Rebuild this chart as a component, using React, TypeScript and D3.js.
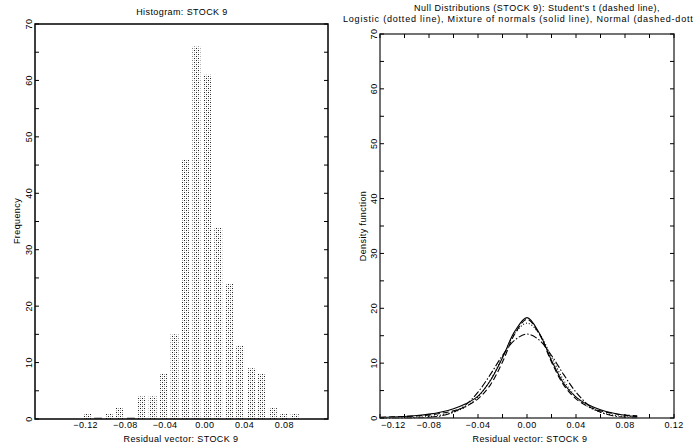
import React, { useEffect, useRef } from 'react'
import * as d3 from 'd3'

// histogram of residuals, STOCK 9
const binLefts = [-0.124, -0.113, -0.102, -0.091, -0.080, -0.069, -0.058, -0.047, -0.036, -0.025, -0.014, -0.003, 0.008, 0.019, 0.030, 0.041, 0.052, 0.063, 0.074, 0.085]
const binWidth = 0.011
const counts = [1, 0, 1, 2, 0, 4, 4, 8, 15, 46, 66, 61, 34, 24, 13, 9, 8, 2, 1, 1]
const histXTicks = [-0.12, -0.08, -0.04, 0, 0.04, 0.08]
const freqTicks = [0, 10, 20, 30, 40, 50, 60, 70]

// null distribution densities
const gridX = [-0.12, -0.11, -0.10, -0.09, -0.08, -0.07, -0.06, -0.05, -0.04, -0.03, -0.02, -0.01, 0, 0.01, 0.02, 0.03, 0.04, 0.05, 0.06, 0.07, 0.08, 0.09]
const studentT = [0.15, 0.2, 0.27, 0.38, 0.55, 0.85, 1.3, 2.1, 3.5, 6.0, 10.2, 15.3, 18.0, 15.3, 10.2, 6.0, 3.5, 2.1, 1.3, 0.85, 0.55, 0.38]
const logistic = [0.02, 0.03, 0.07, 0.14, 0.27, 0.53, 1.05, 2.04, 3.85, 6.85, 11.1, 15.4, 17.3, 15.4, 11.1, 6.85, 3.85, 2.04, 1.05, 0.53, 0.27, 0.14]
const mixture = [0.1, 0.17, 0.28, 0.45, 0.7, 1.1, 1.7, 2.6, 4.0, 6.8, 11.0, 15.8, 18.3, 15.5, 10.5, 6.3, 3.8, 2.4, 1.5, 0.9, 0.5, 0.25]
const normal = [0, 0, 0.01, 0.04, 0.13, 0.4, 1.07, 2.4, 4.7, 7.9, 11.4, 14.2, 15.3, 14.2, 11.4, 7.9, 4.7, 2.4, 1.07, 0.4, 0.13, 0.04]
const densXTicks = [-0.12, -0.08, -0.04, 0, 0.04, 0.08, 0.12]
const densYTicks = [0, 10, 20, 30, 40, 50, 60, 70]

const font = '"Liberation Sans", Arial, sans-serif'
const fmt = d3.format('.2f')

export default function App() {
  const ref = useRef<SVGSVGElement>(null)

  useEffect(() => {
    const svg = d3.select(ref.current)
    svg.selectAll('*').remove()
    svg.attr('font-family', font).attr('font-size', 9).attr('letter-spacing', 0.4)

    const defs = svg.append('defs')
    const pat = defs.append('pattern')
      .attr('id', 'stip')
      .attr('width', 4).attr('height', 4)
      .attr('patternUnits', 'userSpaceOnUse')
    pat.append('rect').attr('x', 0).attr('y', 0).attr('width', 1).attr('height', 1).attr('fill', '#222')
    pat.append('rect').attr('x', 2).attr('y', 2).attr('width', 1).attr('height', 1).attr('fill', '#222')
    pat.append('rect').attr('x', 2).attr('y', 0).attr('width', 1).attr('height', 1).attr('fill', '#aaa')
    pat.append('rect').attr('x', 0).attr('y', 2).attr('width', 1).attr('height', 1).attr('fill', '#aaa')

    // ---------- left panel: histogram ----------
    const xh = d3.scaleLinear().domain([-0.171, 0.124]).range([35, 328])
    const yh = d3.scaleLinear().domain([0, 70]).range([419, 24])
    const left = svg.append('g')

    left.selectAll('rect.bar')
      .data(binLefts.map((b, i) => ({ b, c: counts[i] })))
      .enter()
      .append('rect')
      .attr('class', 'bar')
      .attr('x', d => xh(d.b) + 1.5)
      .attr('width', d => xh(d.b + binWidth) - xh(d.b) - 3)
      .attr('y', d => d.c > 0 ? yh(d.c) : yh(0) - 1.5)
      .attr('height', d => d.c > 0 ? yh(0) - yh(d.c) : 1.5)
      .attr('fill', d => d.c > 0 ? 'url(#stip)' : '#888')

    left.append('rect')
      .attr('x', 35).attr('y', 24).attr('width', 328 - 35).attr('height', 419 - 24)
      .attr('fill', 'none').attr('stroke', '#000').attr('stroke-width', 1.5)

    d3.range(0, 71, 5).forEach(v => {
      left.append('line').attr('x1', 35).attr('x2', 39).attr('y1', yh(v)).attr('y2', yh(v)).attr('stroke', '#000')
      left.append('line').attr('x1', 324).attr('x2', 328).attr('y1', yh(v)).attr('y2', yh(v)).attr('stroke', '#000')
    })

    left.selectAll('text.yt')
      .data(freqTicks)
      .enter()
      .append('text')
      .attr('class', 'yt')
      .attr('transform', d => 'translate(32,' + yh(d) + ') rotate(-90)')
      .attr('text-anchor', 'middle')
      .text(d => d)

    left.selectAll('text.xt')
      .data(histXTicks)
      .enter()
      .append('text')
      .attr('class', 'xt')
      .attr('x', d => xh(d))
      .attr('y', 428)
      .attr('text-anchor', 'middle')
      .text(d => fmt(d).replace('-', '\u2212'))

    left.append('text')
      .attr('x', 182).attr('y', 15)
      .attr('text-anchor', 'middle')
      .text('Histogram: STOCK 9')

    left.append('text')
      .attr('x', 181).attr('y', 442)
      .attr('text-anchor', 'middle')
      .text('Residual vector: STOCK 9')

    left.append('text')
      .attr('transform', 'translate(20,221) rotate(-90)')
      .attr('text-anchor', 'middle')
      .text('Frequency')

    // ---------- right panel: densities ----------
    const xd = d3.scaleLinear().domain([-0.12, 0.12]).range([380, 674])
    const yd = d3.scaleLinear().domain([0, 70]).range([418, 34])
    const right = svg.append('g')

    const series = [
      { vals: studentT, dash: '6,3' },
      { vals: logistic, dash: '1,2' },
      { vals: mixture, dash: null },
      { vals: normal, dash: '7,2,1.5,2' },
    ]
    const line = d3.line<number>()
      .x((d, i) => xd(gridX[i]))
      .y(d => yd(d))
      .curve(d3.curveCatmullRom)

    right.selectAll('path.dens')
      .data(series)
      .enter()
      .append('path')
      .attr('class', 'dens')
      .attr('d', d => line(d.vals))
      .attr('fill', 'none')
      .attr('stroke', '#000')
      .attr('stroke-width', 1.1)
      .attr('stroke-dasharray', d => d.dash)

    right.append('rect')
      .attr('x', 380).attr('y', 34).attr('width', 674 - 380).attr('height', 418 - 34)
      .attr('fill', 'none').attr('stroke', '#444').attr('stroke-width', 1.5)

    d3.range(0, 71, 5).forEach(v => {
      right.append('line').attr('x1', 380).attr('x2', 384).attr('y1', yd(v)).attr('y2', yd(v)).attr('stroke', '#000')
      right.append('line').attr('x1', 670).attr('x2', 674).attr('y1', yd(v)).attr('y2', yd(v)).attr('stroke', '#000')
    })
    d3.range(-0.12, 0.1201, 0.02).forEach(v => {
      right.append('line').attr('x1', xd(v)).attr('x2', xd(v)).attr('y1', 34).attr('y2', 38).attr('stroke', '#000')
      right.append('line').attr('x1', xd(v)).attr('x2', xd(v)).attr('y1', 414).attr('y2', 418).attr('stroke', '#000')
    })

    right.selectAll('text.yt')
      .data(densYTicks)
      .enter()
      .append('text')
      .attr('class', 'yt')
      .attr('transform', d => 'translate(377,' + yd(d) + ') rotate(-90)')
      .attr('text-anchor', 'middle')
      .text(d => d)

    // first label sits inside the frame, like the original
    right.selectAll('text.xt')
      .data(densXTicks)
      .enter()
      .append('text')
      .attr('class', 'xt')
      .attr('x', (d, i) => i === 0 ? xd(d) + 1 : xd(d))
      .attr('y', 428)
      .attr('text-anchor', (d, i) => i === 0 ? 'start' : 'middle')
      .text(d => fmt(d).replace('-', '\u2212'))

    right.append('text')
      .attr('x', 537).attr('y', 11)
      .attr('text-anchor', 'middle')
      .attr('textLength', 246)
      .attr('lengthAdjust', 'spacing')
      .text("Null Distributions (STOCK 9): Student's t (dashed line),")

    // second title line runs past the right edge in the original
    right.append('text')
      .attr('x', 343).attr('y', 22)
      .attr('textLength', 386)
      .attr('lengthAdjust', 'spacing')
      .text('Logistic (dotted line), Mixture of normals (solid line), Normal (dashed-dotted line)')

    right.append('text')
      .attr('x', 530).attr('y', 442)
      .attr('text-anchor', 'middle')
      .text('Residual vector: STOCK 9')

    right.append('text')
      .attr('transform', 'translate(366,226) rotate(-90)')
      .attr('text-anchor', 'middle')
      .text('Density function')
  }, [])

  return (
    <svg
      ref={ref}
      width={693}
      height={448}
      style={{ position: 'absolute', left: 0, top: 0, background: '#fff', overflow: 'hidden' }}
    />
  )
}
